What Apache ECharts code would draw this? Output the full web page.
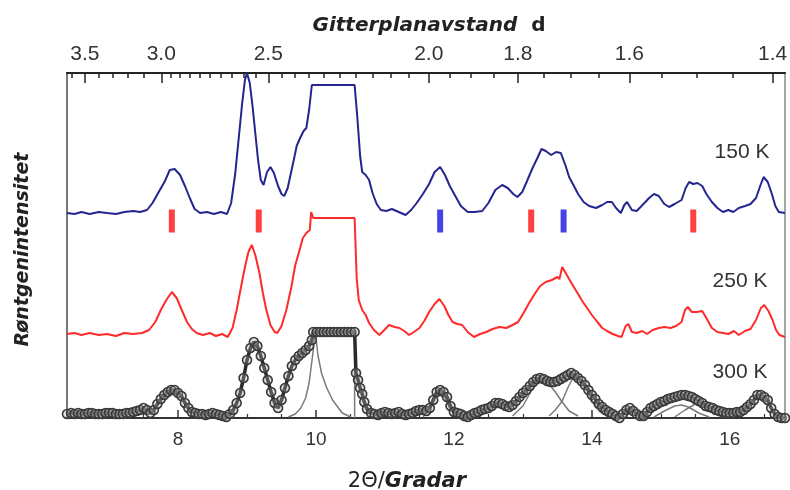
<!DOCTYPE html>
<html>
<head>
<meta charset="utf-8">
<script src="https://cdn.jsdelivr.net/npm/echarts@6.0.0/dist/echarts.min.js"></script>
<style>
  html, body { margin: 0; background: #fff; }
  #chart { width: 790px; height: 490px; }
</style>
</head>
<body>
<div id="chart"></div>
<script>
// 2θ (grader) ≈ K / d  för våglängden i mätningen
const K = 23.27

// tick labels
const twoThetaLabels = [8, 10, 12, 14, 16]
const twoThetaMinor = [6.5, 7, 7.5, 8.5, 9, 9.5, 10.5, 11, 11.5, 12.5, 13, 13.5, 14.5, 15, 15.5, 16.5]
const dLabels = [3.5, 3.0, 2.5, 2.0, 1.8, 1.6, 1.4]
const dMinor = [3.6, 3.4, 3.3, 3.2, 3.1, 2.95, 2.9, 2.85, 2.8, 2.75, 2.7, 2.65, 2.6, 2.55,
  2.45, 2.4, 2.35, 2.3, 2.25, 2.2, 2.15, 2.1, 2.05, 1.95, 1.9, 1.85, 1.75, 1.7, 1.65,
  1.55, 1.5, 1.45]

// reflexmarkeringar (2θ)
const redTicks = [7.91, 9.17, 13.12, 15.47]
const blueTicks = [11.80, 13.59]
const tickLevel = 197

// 150 K  [2θ, intensitet + förskjutning]
const k150 = [[6.39,205],[6.5,204],[6.6,206],[6.72,204],[6.85,206],[6.97,205],[7.1,204],[7.22,206],[7.35,207],[7.45,206],[7.55,208],[7.63,215],[7.72,226],[7.81,237],[7.88,248],[7.95,249],[8.03,243],[8.1,232],[8.17,220],[8.24,209],[8.32,205],[8.42,206],[8.52,204],[8.62,206],[8.71,204],[8.77,215],[8.83,245],[8.88,280],[8.93,315],[8.97,338],[9.0,345],[9.04,335],[9.08,312],[9.12,285],[9.16,258],[9.2,238],[9.24,233],[9.29,246],[9.34,251],[9.39,245],[9.45,232],[9.5,224],[9.54,222],[9.59,230],[9.64,246],[9.69,262],[9.72,272],[9.77,280],[9.82,287],[9.86,290],[9.9,308],[9.94,333],[10.56,333],[10.6,300],[10.64,262],[10.67,246],[10.72,243],[10.77,238],[10.82,225],[10.88,214],[10.94,208],[11.02,207],[11.1,209],[11.2,206],[11.3,203],[11.38,208],[11.46,215],[11.55,224],[11.64,234],[11.72,246],[11.8,251],[11.87,243],[11.94,232],[12.02,222],[12.1,212],[12.2,206],[12.3,206],[12.41,207],[12.5,215],[12.6,228],[12.7,233],[12.78,230],[12.86,224],[12.92,221],[12.99,226],[13.06,237],[13.14,250],[13.21,260],[13.27,269],[13.33,267],[13.41,263],[13.48,266],[13.55,265],[13.62,252],[13.67,241],[13.74,232],[13.8,224],[13.88,216],[13.96,212],[14.06,210],[14.15,213],[14.22,216],[14.29,216],[14.35,210],[14.42,205],[14.47,213],[14.51,216],[14.58,208],[14.65,207],[14.72,212],[14.83,220],[14.9,224],[14.97,222],[15.05,214],[15.12,211],[15.2,214],[15.3,218],[15.36,230],[15.41,236],[15.47,234],[15.53,235],[15.6,232],[15.66,224],[15.74,216],[15.82,210],[15.9,206],[15.98,208],[16.05,206],[16.13,210],[16.22,212],[16.3,214],[16.38,220],[16.44,232],[16.49,241],[16.55,236],[16.61,224],[16.66,212],[16.71,206],[16.8,205]]

// 250 K
const k250 = [[6.39,84],[6.5,85],[6.6,83],[6.72,85],[6.85,83],[6.97,84],[7.1,82],[7.22,85],[7.35,84],[7.48,85],[7.58,88],[7.67,96],[7.75,108],[7.83,118],[7.91,126],[7.98,120],[8.06,107],[8.13,96],[8.2,89],[8.27,85],[8.36,83],[8.46,85],[8.55,82],[8.64,84],[8.72,81],[8.79,90],[8.85,108],[8.91,130],[8.97,151],[9.02,166],[9.07,173],[9.12,163],[9.18,145],[9.23,125],[9.28,108],[9.34,93],[9.4,86],[9.44,85],[9.5,92],[9.57,108],[9.64,130],[9.7,153],[9.75,165],[9.81,180],[9.86,185],[9.91,188],[9.93,206],[9.96,200],[10.56,200],[10.59,140],[10.62,118],[10.67,108],[10.72,103],[10.77,95],[10.84,88],[10.92,83],[10.99,88],[11.06,93],[11.14,91],[11.21,90],[11.28,87],[11.35,83],[11.42,86],[11.5,90],[11.57,97],[11.64,106],[11.72,114],[11.79,119],[11.86,112],[11.92,103],[11.98,96],[12.05,94],[12.12,93],[12.2,86],[12.29,81],[12.38,84],[12.47,86],[12.56,89],[12.66,91],[12.76,90],[12.85,93],[12.93,96],[13.01,105],[13.09,115],[13.17,124],[13.25,132],[13.33,136],[13.42,138],[13.5,141],[13.53,139],[13.57,151],[13.62,145],[13.67,139],[13.73,132],[13.8,124],[13.87,116],[13.94,109],[14.0,103],[14.08,96],[14.15,90],[14.22,87],[14.3,84],[14.38,82],[14.43,81],[14.49,92],[14.53,94],[14.58,86],[14.65,85],[14.73,87],[14.8,84],[14.88,88],[14.97,90],[15.05,91],[15.14,90],[15.22,92],[15.3,96],[15.35,108],[15.39,111],[15.45,106],[15.52,106],[15.6,107],[15.66,100],[15.74,90],[15.82,86],[15.9,85],[15.98,84],[16.06,87],[16.13,83],[16.22,87],[16.3,89],[16.38,98],[16.45,110],[16.5,113],[16.56,107],[16.62,98],[16.67,88],[16.72,83],[16.8,81]]

// 300 K mätpunkter
const k300 = [[6.39,4],[6.45,5],[6.5,4],[6.55,5],[6.6,4],[6.65,4],[6.7,5],[6.75,5],[6.8,4],[6.85,4],[6.9,4],[6.95,5],[7.0,5],[7.05,5],[7.1,4],[7.15,4],[7.2,4],[7.25,5],[7.3,5],[7.35,6],[7.4,7],[7.45,8],[7.5,10],[7.55,8],[7.6,5],[7.65,8],[7.7,14],[7.75,19],[7.8,23],[7.85,26],[7.9,28],[7.95,28],[8.0,25],[8.05,22],[8.1,15],[8.15,10],[8.2,6],[8.25,5],[8.3,4],[8.35,4],[8.4,3],[8.45,4],[8.5,5],[8.55,4],[8.6,3],[8.65,2],[8.7,1],[8.75,4],[8.8,8],[8.85,15],[8.9,25],[8.95,40],[9.0,58],[9.05,70],[9.1,76],[9.15,72],[9.2,62],[9.25,50],[9.3,38],[9.35,26],[9.4,15],[9.45,10],[9.5,18],[9.55,30],[9.6,42],[9.65,52],[9.7,58],[9.75,62],[9.8,65],[9.85,68],[9.9,72],[9.94,78],[9.96,86],[10.01,86],[10.06,86],[10.11,86],[10.16,86],[10.21,86],[10.26,86],[10.31,86],[10.36,86],[10.41,86],[10.46,86],[10.51,86],[10.56,86],[10.58,45],[10.61,38],[10.64,30],[10.67,24],[10.7,16],[10.74,9],[10.8,5],[10.85,4],[10.9,3],[10.95,5],[11.0,6],[11.05,5],[11.1,4],[11.15,5],[11.2,6],[11.25,4],[11.3,3],[11.35,4],[11.4,5],[11.45,7],[11.5,8],[11.55,8],[11.6,7],[11.65,10],[11.7,18],[11.75,26],[11.8,28],[11.85,26],[11.9,21],[11.95,12],[12.0,6],[12.05,5],[12.1,4],[12.15,2],[12.2,1],[12.25,3],[12.3,5],[12.35,6],[12.4,8],[12.45,9],[12.5,10],[12.55,12],[12.6,15],[12.65,15],[12.7,14],[12.75,12],[12.8,11],[12.85,13],[12.9,17],[12.95,21],[13.0,25],[13.05,28],[13.1,32],[13.15,36],[13.2,39],[13.25,40],[13.3,39],[13.35,37],[13.4,36],[13.45,36],[13.5,37],[13.55,39],[13.6,41],[13.65,43],[13.7,45],[13.75,43],[13.8,40],[13.85,37],[13.9,33],[13.95,28],[14.0,23],[14.05,19],[14.1,14],[14.15,11],[14.2,8],[14.25,6],[14.3,4],[14.35,2],[14.4,0],[14.45,4],[14.5,8],[14.55,10],[14.6,7],[14.65,4],[14.7,2],[14.75,2],[14.8,6],[14.85,10],[14.9,12],[14.95,14],[15.0,16],[15.05,17],[15.1,19],[15.15,20],[15.2,21],[15.25,22],[15.3,23],[15.35,23],[15.4,22],[15.45,21],[15.5,19],[15.55,17],[15.6,15],[15.65,12],[15.7,11],[15.75,10],[15.8,8],[15.85,7],[15.9,6],[15.95,5],[16.0,5],[16.05,5],[16.1,6],[16.15,6],[16.2,8],[16.25,11],[16.3,14],[16.35,18],[16.4,23],[16.45,23],[16.5,21],[16.55,18],[16.6,10],[16.65,4],[16.7,1],[16.75,0],[16.8,0]]

// 300 K anpassade toppar (grå)
const fitA = [[9.6,1],[9.7,4],[9.78,10],[9.85,20],[9.9,35],[9.95,62],[9.99,86],[10.03,62],[10.08,45],[10.15,31],[10.24,18],[10.38,5],[10.5,1]]
const fitEdge = [[10.56,86],[10.56,0]]
const fitB = [[11.55,1],[11.65,8],[11.72,20],[11.79,27],[11.86,22],[11.93,11],[12.0,4],[12.1,0]]
const fitC = [[12.85,2],[13.0,12],[13.12,27],[13.22,36],[13.3,38],[13.38,34],[13.47,26],[13.57,16],[13.67,7],[13.8,2]]
const fitD = [[13.38,2],[13.47,8],[13.57,17],[13.65,30],[13.73,41],[13.82,38],[13.92,28],[14.02,16],[14.12,6],[14.25,1]]
const fitE = [[14.9,1],[15.05,7],[15.2,12],[15.3,13],[15.4,11],[15.55,5],[15.7,1]]
const fitF = [[15.2,1],[15.35,8],[15.5,14],[15.6,12],[15.75,5],[15.9,1]]

const FONT = 'Liberation Sans, Arial, sans-serif'
const TITLE_FONT = 'DejaVu Sans, Verdana, sans-serif'
const X_MIN = 6.39
const X_MAX = 16.8

const chart = echarts.init(document.getElementById('chart'))

function fitLine (data) {
  return {
    type: 'line',
    data: data,
    showSymbol: false,
    silent: true,
    z: 3,
    lineStyle: { color: '#7a7a7a', width: 1.5 }
  }
}

const baseX = {
  type: 'value',
  min: X_MIN,
  max: X_MAX,
  splitLine: { show: false }
}

const option = {
  animation: false,
  backgroundColor: '#fff',
  grid: { left: 67, right: 5, top: 73, bottom: 72, show: false, outerBoundsMode: 'none', containLabel: false },
  xAxis: [
    Object.assign({}, baseX, {
      position: 'bottom',
      axisLine: { show: true, lineStyle: { color: '#333', width: 2 } },
      axisTick: { show: true, inside: true, length: 8, customValues: twoThetaLabels, lineStyle: { color: '#333', width: 1.5 } },
      axisLabel: { customValues: twoThetaLabels, fontFamily: FONT, fontSize: 19, color: '#333', margin: 12 },
      name: '{a|2Θ/}{b|Gradar}',
      nameLocation: 'middle',
      nameGap: 53,
      nameTextStyle: {
        padding: [0, 38, 0, 0],
        rich: {
          a: { fontFamily: TITLE_FONT, fontSize: 21, color: '#222' },
          b: { fontFamily: TITLE_FONT, fontSize: 21, fontWeight: 'bold', fontStyle: 'italic', color: '#222' }
        }
      }
    }),
    Object.assign({}, baseX, {
      position: 'bottom',
      axisLine: { show: false },
      axisTick: { show: true, inside: true, length: 4, customValues: twoThetaMinor, lineStyle: { color: '#333', width: 1.2 } },
      axisLabel: { show: false }
    }),
    Object.assign({}, baseX, {
      position: 'top',
      axisLine: { show: true, lineStyle: { color: '#222', width: 2 } },
      axisTick: { show: true, inside: true, length: 10, customValues: dLabels.map(d => K / d), lineStyle: { color: '#222', width: 1.5 } },
      axisLabel: {
        customValues: dLabels.map(d => K / d),
        formatter: v => (K / v).toFixed(1),
        fontFamily: FONT, fontSize: 21, color: '#333', margin: 8
      },
      name: '{b|Gitterplanavstand}{a|  d}',
      nameLocation: 'middle',
      nameGap: 37,
      nameTextStyle: {
        padding: [0, 0, 0, 6],
        rich: {
          a: { fontFamily: TITLE_FONT, fontSize: 20, fontWeight: 'bold', color: '#222' },
          b: { fontFamily: TITLE_FONT, fontSize: 20, fontWeight: 'bold', fontStyle: 'italic', color: '#222' }
        }
      }
    }),
    Object.assign({}, baseX, {
      position: 'top',
      axisLine: { show: false },
      axisTick: { show: true, inside: true, length: 5, customValues: dMinor.map(d => K / d), lineStyle: { color: '#222', width: 1.5 } },
      axisLabel: { show: false }
    })
  ],
  yAxis: [
    {
      type: 'value',
      min: 0,
      max: 345,
      position: 'left',
      axisLine: { show: true, lineStyle: { color: '#777', width: 2 } },
      axisTick: { show: false },
      axisLabel: { show: false },
      splitLine: { show: false },
      name: 'Røntgenintensitet',
      nameLocation: 'middle',
      nameGap: 34,
      nameTextStyle: { fontFamily: TITLE_FONT, fontSize: 19, fontWeight: 'bold', fontStyle: 'italic', color: '#222', padding: [0, 8, 0, 0] }
    },
    {
      type: 'value',
      min: 0,
      max: 345,
      position: 'right',
      axisLine: { show: true, lineStyle: { color: '#888', width: 1.5 } },
      axisTick: { show: false },
      axisLabel: { show: false },
      splitLine: { show: false }
    }
  ],
  series: [
    {
      name: '150 K',
      type: 'line',
      data: k150,
      showSymbol: false,
      z: 4,
      lineStyle: { color: '#25258f', width: 2 }
    },
    {
      name: '250 K',
      type: 'line',
      data: k250,
      showSymbol: false,
      z: 4,
      lineStyle: { color: '#ff2a2a', width: 2 }
    },
    fitLine(fitA),
    fitLine(fitEdge),
    fitLine(fitB),
    fitLine(fitC),
    fitLine(fitD),
    fitLine(fitE),
    fitLine(fitF),
    {
      name: '300 K',
      type: 'line',
      data: k300,
      z: 5,
      symbol: 'circle',
      symbolSize: 9,
      showAllSymbol: true,
      lineStyle: { color: '#2a2a2a', width: 3.5 },
      itemStyle: { color: 'rgba(170,170,170,0.35)', borderColor: '#3a3a3a', borderWidth: 1.6 }
    },
    {
      name: 'röda reflexer',
      type: 'scatter',
      data: redTicks.map(t => [t, tickLevel]),
      symbol: 'rect',
      symbolSize: [6, 23],
      z: 6,
      itemStyle: { color: '#ff1010' }
    },
    {
      name: 'blå reflexer',
      type: 'scatter',
      data: blueTicks.map(t => [t, tickLevel]),
      symbol: 'rect',
      symbolSize: [6, 23],
      z: 6,
      itemStyle: { color: '#1515e0' }
    }
  ],
  graphic: [
    { type: 'text', x: 742, y: 152, style: { text: '150 K', fontFamily: FONT, fontSize: 21, fill: '#333', align: 'center', verticalAlign: 'middle' } },
    { type: 'text', x: 740, y: 281, style: { text: '250 K', fontFamily: FONT, fontSize: 21, fill: '#333', align: 'center', verticalAlign: 'middle' } },
    { type: 'text', x: 740, y: 372, style: { text: '300 K', fontFamily: FONT, fontSize: 21, fill: '#333', align: 'center', verticalAlign: 'middle' } }
  ]
}

chart.setOption(option)
</script>
</body>
</html>
